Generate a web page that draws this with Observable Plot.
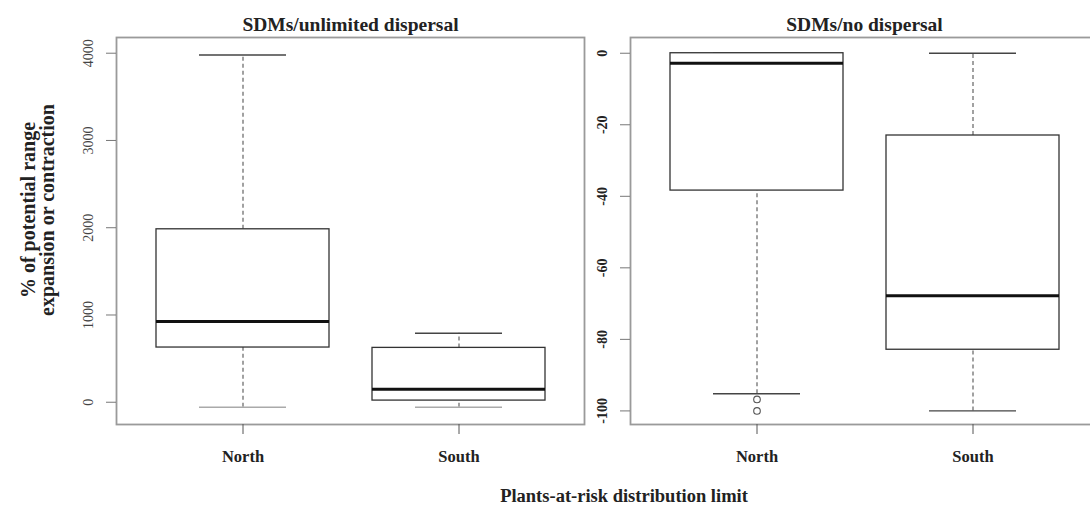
<!DOCTYPE html>
<html>
<head>
<meta charset="utf-8">
<script src="https://cdn.jsdelivr.net/npm/d3@7"></script>
<script src="https://cdn.jsdelivr.net/npm/@observablehq/plot@0.6"></script>
<style>
  html, body { margin: 0; padding: 0; background: #fff; }
  #wrap { position: relative; width: 1090px; height: 510px; overflow: hidden; font-family: "Liberation Serif", "DejaVu Serif", serif; }
  #wrap svg { position: absolute; top: 0; left: 0; max-width: none !important; }
  #xtitle { position: absolute; left: 624px; top: 486px; transform: translateX(-50%); font-weight: bold; font-size: 18.5px; color: #222; white-space: nowrap; }
</style>
</head>
<body>
<div id="wrap">
  <div id="xtitle">Plants-at-risk distribution limit</div>
</div>
<script>
// ---- data ----
const categories = ["North", "South"];

// Panel 1: SDMs/unlimited dispersal
const unlimitedLow    = [-57, -57];
const unlimitedQ1     = [627, 19];
const unlimitedMedian = [924, 149];
const unlimitedQ3     = [1982, 623];
const unlimitedHigh   = [3980, 790];
const unlimitedTicks  = [0, 1000, 2000, 3000, 4000];

// Panel 2: SDMs/no dispersal
const noDispLow    = [-95.2, -100];
const noDispQ1     = [-38.4, -82.9];
const noDispMedian = [-2.8, -67.8];
const noDispQ3     = [0, -23];
const noDispHigh   = [0, 0];
const noDispOutlierCat = ["North", "North"];
const noDispOutliers   = [-96.8, -100];
const noDispTicks  = [-100, -80, -60, -40, -20, 0];

const titles = ["SDMs/unlimited dispersal", "SDMs/no dispersal"];
const yTitle = "% of potential range\nexpansion or contraction";

function rows(low, q1, med, q3, high) {
  return categories.map((c, i) => ({cat: c, low: low[i], q1: q1[i], med: med[i], q3: q3[i], high: high[i]}));
}

const font = "Liberation Serif, DejaVu Serif, serif";

function panel({data, yDomain, ticks, title, width, marginLeft, marginRight, tickBold, lowCapColor, outliers, extra}) {
  const marks = [
    Plot.frame({stroke: "#9a9a9a", strokeWidth: 1.8}),
    // whiskers
    Plot.ruleX(data, {x: "cat", y1: "q3", y2: "high", stroke: "#555", strokeWidth: 1.1, strokeDasharray: "4,3"}),
    Plot.ruleX(data, {x: "cat", y1: "low", y2: "q1", stroke: "#555", strokeWidth: 1.1, strokeDasharray: "4,3"}),
    // caps
    Plot.tickY(data, {x: "cat", y: "high", stroke: "#444", strokeWidth: 1.4, insetLeft: 43, insetRight: 43}),
    Plot.tickY(data, {x: "cat", y: "low", stroke: lowCapColor, strokeWidth: 1.4, insetLeft: 43, insetRight: 43}),
    // boxes
    Plot.barY(data, {x: "cat", y1: "q1", y2: "q3", fill: "white", stroke: "#333", strokeWidth: 1.3}),
    // medians
    Plot.tickY(data, {x: "cat", y: "med", stroke: "#111", strokeWidth: 3}),
    // y ticks
    Plot.axisY({ticks, tickSize: 10, tickFormat: () => "", stroke: "#777", label: null}),
    Plot.text(ticks, {y: d => d, text: d => String(d), frameAnchor: "left", textAnchor: "middle", dx: -28, rotate: -90,
      fontSize: 14, fontWeight: tickBold ? "bold" : "normal", fill: tickBold ? "#222" : "#444"}),
    // x axis
    Plot.axisX({tickSize: 10, tickPadding: 16, stroke: "#555", fontWeight: "bold", fontSize: 16.5, label: null, fill: "#222"}),
    // title
    Plot.text([title], {frameAnchor: "top", dy: -20, fontWeight: "bold", fontSize: 19.5, fill: "#222"})
  ];
  if (outliers) marks.push(Plot.dot(outliers, {x: "cat", y: "v", r: 3.3, stroke: "#555", fill: "white", strokeWidth: 1.1}));
  if (extra) marks.push(...extra);
  return Plot.plot({
    width, height: 510,
    marginLeft, marginRight, marginTop: 37, marginBottom: 86,
    style: {fontFamily: font, background: "transparent", overflow: "visible", maxWidth: "none"},
    x: {type: "band", domain: categories, paddingInner: 0.2, paddingOuter: 0.18, axis: null},
    y: {domain: yDomain, axis: null},
    marks
  });
}

const p1 = panel({
  data: rows(unlimitedLow, unlimitedQ1, unlimitedMedian, unlimitedQ3, unlimitedHigh),
  yDomain: [-255, 4180], ticks: unlimitedTicks, title: titles[0],
  width: 1090, marginLeft: 116, marginRight: 506, tickBold: false, lowCapColor: "#aaa",
  extra: [Plot.text([yTitle], {frameAnchor: "left", textAnchor: "middle", dx: -78, dy: -21, rotate: -90, fontWeight: "bold", fontSize: 20, lineHeight: 0.95, fill: "#222"})]
});

const p2 = panel({
  data: rows(noDispLow, noDispQ1, noDispMedian, noDispQ3, noDispHigh),
  yDomain: [-103.8, 4.4], ticks: noDispTicks, title: titles[1],
  width: 1110, marginLeft: 630, marginRight: 12, tickBold: true, lowCapColor: "#444",
  outliers: noDispOutliers.map((v, i) => ({cat: noDispOutlierCat[i], v}))
});

const wrap = document.getElementById("wrap");
wrap.appendChild(p1);
wrap.appendChild(p2);
</script>
</body>
</html>
